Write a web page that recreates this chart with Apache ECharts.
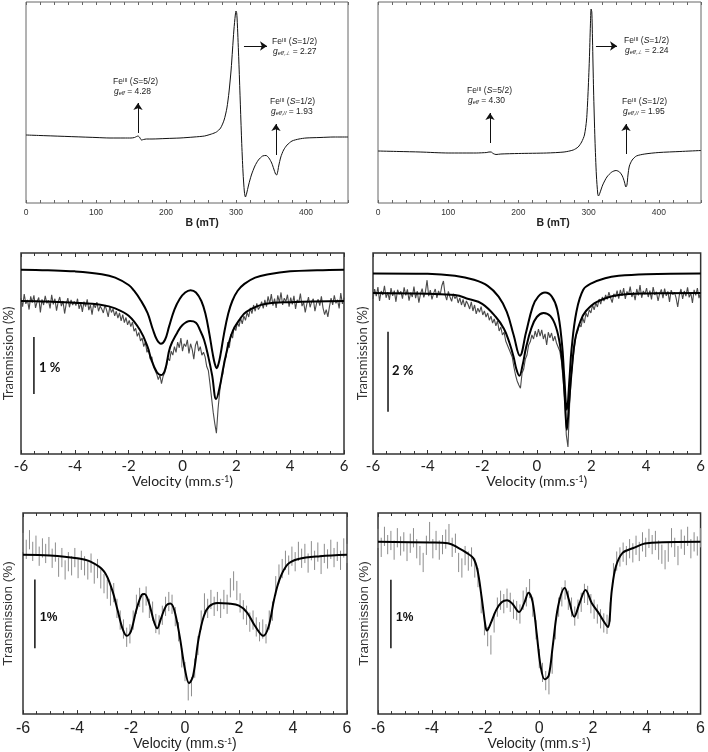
<!DOCTYPE html>
<html><head><meta charset="utf-8">
<script src="https://cdn.jsdelivr.net/npm/echarts@6/dist/echarts.min.js"></script>
<style>html,body{margin:0;padding:0;background:#fff}#c{width:708px;height:752px}</style>
</head><body><div id="c"></div>
<script>
// ---------- EPR (top row) ----------
const eprB_L = [0,20,40,60,80,100,120,140,150,155,158,160,162,165,168,172,180,200,220,240,255,265,272,278,283,287,290,293,295,297,299,300,301,302,304,306,308,310,312,313.5,315,318,322,327,332,338,343,347,351,354,356.5,358,359.5,361,364,368,373,380,390,400,420,440,460];
const eprI_L = [1,0.5,0,-0.5,-1,-1.5,-2,-2,-2,-1.5,-0.5,0,-1,-4,-3.5,-3,-3,-2.5,-2,-1,0,2,4,8,16,28,44,66,86,106,121,125,123,111,76,36,-4,-36,-56,-61,-58,-49,-39,-30,-24,-20,-19.5,-22,-27,-33,-38,-39,-36,-30,-21,-14,-9,-5,-3,-2,-1.5,-1,-1];
const eprB_R = [0,30,60,100,140,155,158,161,164,168,175,200,240,265,278,285,290,294,297,299,301,302.5,303.5,304.5,305.5,307,309,311,313,314,316,320,326,333,339,344,348,351,353,354.5,356,358,362,368,380,400,430,460];
const eprI_R = [0,-0.5,-1,-2,-2,-1.5,-1,-1,-2.5,-3.5,-3,-2.5,-2,-1,1,4,9,16,31,56,91,126,142,139,111,61,11,-24,-43,-45,-42,-34,-26,-21,-19.5,-21,-25,-31,-36,-34,-24,-15,-9,-5,-3,-1.5,-0.5,0.5];
const eprArrowsL = [[160,3,160,33],[311.4,90,344.3,90],[357.1,-19,357.1,12]];
const eprArrowsR = [[159.5,8,159.5,38],[310.4,105,340.4,105],[353.2,-3,353.2,27]];
const eprLabelsL = [['5/2','{i|g}{sub|eff}{n| = 4.28}'],['1/2','{i|g}{sub|eff,⊥}{n| = 2.27}'],['1/2','{i|g}{sub|eff,//}{n| = 1.93}']];
const eprLabelsR = [['5/2','{i|g}{sub|eff}{n| = 4.30}'],['1/2','{i|g}{sub|eff,⊥}{n| = 2.24}'],['1/2','{i|g}{sub|eff,//}{n| = 1.95}']];

// ---------- Mössbauer middle row ----------
const midChannelStart = -6, midChannelStep = 0.06, midChannelCount = 201;
const midL_T = [
100.05,99.90,100.12,99.95,100.02,99.85,100.08,99.97,100.10,99.88,99.99,100.06,99.80,100.03,99.93,100.09,99.96,
100.01,99.87,100.11,99.94,100.04,99.83,99.98,100.07,99.91,100.00,99.78,99.95,100.05,99.89,100.02,99.93,99.99,
99.92,100.04,99.86,99.97,99.81,99.99,99.90,100.03,99.84,99.93,99.76,99.95,99.88,99.98,99.82,99.91,99.86,
99.79,99.93,99.84,99.72,99.90,99.80,99.86,99.74,
99.82,99.70,99.79,99.65,99.76,99.62,99.71,99.58,99.66,
99.55,99.63,99.47,99.52,99.38,99.45,99.30,
99.35,99.20,99.28,99.10,99.15,
98.98,99.02,98.85,98.88,98.72,
98.62,98.70,98.55,98.68,98.74,
98.85,99.00,98.95,99.12,99.05,99.20,
99.10,99.28,99.18,99.35,99.12,99.25,
99.20,99.32,99.08,99.25,99.15,98.98,
99.22,99.30,99.12,99.20,99.05,
99.10,99.02,98.85,98.78,98.55,
98.30,98.05,97.85,97.68,98.10,
98.40,98.65,98.72,98.98,99.02,
99.28,99.18,99.42,99.35,99.55,
99.48,99.62,99.55,99.70,99.60,99.74,99.66,99.80,
99.72,99.88,99.78,99.93,99.82,99.96,99.85,99.90,99.99,99.87,
100.02,99.90,100.08,99.95,100.12,99.92,100.04,99.88,100.10,99.97,100.15,99.93,100.05,99.99,100.11,99.90,
100.06,99.94,100.09,99.86,100.02,99.97,100.13,99.91,99.98,99.80,99.95,100.07,99.89,99.99,100.04,99.82,99.96,
100.03,99.92,100.08,99.88,99.76,99.85,99.72,99.90,100.05,99.93,100.10,99.96,100.02,99.87,100.14,99.95,100.06];
const midL_fitV = [-6,-5,-4,-3,-2.5,-2,-1.58,-1.3,-1.15,-0.95,-0.8,-0.65,-0.46,-0.2,0,0.28,0.5,0.65,0.8,0.96,1.1,1.25,1.4,1.5,1.7,1.88,2.1,2.37,3.1,4,6];
const midL_fitT = [100,99.99,99.97,99.93,99.87,99.74,99.49,99.2,98.96,98.75,98.70,98.79,99.19,99.44,99.58,99.65,99.62,99.49,99.32,99.02,98.7,98.28,98.53,98.79,99.23,99.49,99.66,99.81,99.95,99.98,100];
const midL_compV = [-6,-5,-4,-3,-2.5,-2,-1.8,-1.55,-1.3,-1.1,-0.95,-0.8,-0.65,-0.5,-0.3,-0.1,0.1,0.3,0.5,0.7,0.85,1.0,1.12,1.2,1.27,1.34,1.42,1.54,1.7,1.85,2.05,2.3,2.7,3.2,4,5,6];
const midL_compT = [100.55,100.54,100.52,100.47,100.41,100.28,100.18,100.01,99.79,99.5,99.32,99.25,99.32,99.55,99.85,100.04,100.15,100.19,100.15,100.0,99.78,99.42,99.08,98.9,98.82,98.9,99.08,99.42,99.78,100.0,100.18,100.3,100.41,100.47,100.52,100.54,100.55];
const midL_bar = [-5.52, 98.37, 99.37];

const midR_T = [
99.85,100.10,99.92,100.15,99.80,100.05,99.95,100.18,99.88,100.02,99.83,100.12,99.93,100.06,99.78,100.08,99.97,
100.04,99.86,100.14,99.94,100.09,99.81,100.01,99.90,100.16,99.87,100.05,99.76,99.98,100.11,99.89,100.03,100.32,
99.92,100.07,99.84,99.99,100.10,99.88,100.05,99.95,100.18,100.30,99.96,99.82,100.04,99.90,99.79,99.98,99.86,
99.93,99.75,99.88,99.70,99.84,99.65,99.80,99.72,
99.60,99.78,99.55,99.70,99.48,99.62,99.52,99.66,99.45,
99.55,99.40,99.50,99.32,99.42,99.25,99.35,
99.18,99.30,99.05,99.15,98.95,
99.02,98.80,98.85,98.60,98.62,
98.40,98.15,97.95,97.80,97.70,
97.62,98.00,98.10,98.35,98.45,98.70,
98.78,98.95,98.85,99.05,98.90,99.10,
98.92,99.08,98.85,98.98,98.70,99.02,
98.88,99.00,98.80,98.92,98.75,
98.78,98.55,98.30,97.85,97.35,
96.45,96.15,97.20,97.90,98.30,
98.65,98.95,99.05,99.22,99.15,
99.38,99.25,99.50,99.40,99.58,
99.50,99.70,99.58,99.75,99.65,99.85,99.72,99.90,
99.80,99.95,99.84,100.02,99.88,99.76,99.98,99.90,100.06,99.86,
100.08,99.93,100.12,99.85,100.04,99.96,100.16,99.90,100.02,99.82,100.10,99.94,100.20,99.88,100.05,99.97,
100.12,99.90,100.06,99.84,100.15,99.95,100.03,99.80,99.99,100.09,99.87,100.11,99.93,100.04,99.78,100.07,99.96,
100.02,99.88,99.65,99.95,100.10,99.85,100.05,99.92,100.14,99.89,100.00,99.75,100.08,99.94,100.12,99.87,100.03];
const midR_fitV = [-6,-4,-3,-2.5,-2,-1.5,-1.2,-1,-0.85,-0.75,-0.64,-0.52,-0.4,-0.2,0,0.25,0.5,0.7,0.85,0.96,1.03,1.1,1.18,1.27,1.4,1.6,1.8,2.2,3,4,6];
const midR_fitT = [100,99.98,99.95,99.85,99.73,99.4,99.1,98.75,98.4,98.1,97.93,98.2,98.62,99.12,99.4,99.5,99.42,99.15,98.7,98.05,97.3,96.58,97.25,98,98.83,99.3,99.55,99.78,99.95,99.99,100];
const midR_compV = [-6,-4,-3,-2.3,-1.8,-1.4,-1.1,-0.85,-0.62,-0.4,-0.15,0.05,0.3,0.55,0.75,0.92,1.0,1.1,1.2,1.27,1.45,1.7,2,2.5,3,4,6];
const midR_compT = [100.49,100.48,100.43,100.33,100.18,99.91,99.53,98.95,98.43,99.0,99.66,99.91,100.01,99.91,99.58,98.74,97.95,97.08,97.9,98.58,99.53,100.08,100.24,100.37,100.43,100.47,100.49];
const midR_bar = [-5.45, 97.03, 99.03];

// ---------- Mössbauer bottom row ----------
const botChannelStart = -6, botChannelStep = 0.12, botChannelCount = 101;
const botL_T = [100.18,100.08,100.22,100.05,100.14,99.98,100.10,100.02,100.12,99.95,
100.04,99.82,99.96,99.78,99.90,99.84,99.96,99.80,99.92,99.84,
99.78,99.88,99.72,99.80,99.65,99.58,99.50,99.40,99.45,99.22,
99.05,98.92,98.80,98.85,99.05,99.28,99.38,99.30,99.40,99.22,
99.18,99.00,98.98,99.12,99.25,99.32,99.28,99.10,98.88,98.50,
98.30,98.02,98.08,98.35,98.68,99.05,99.30,99.22,99.35,99.25,
99.32,99.22,99.35,99.28,99.52,99.62,99.48,99.30,99.20,99.12,
99.02,99.05,98.95,98.88,98.92,98.85,99.05,99.18,99.55,99.72,
99.80,99.92,99.85,99.98,99.90,100.05,99.95,100.02,99.88,100.06,
99.92,100.04,99.86,100.02,99.94,100.08,99.96,100.05,99.92,100.10,100.02];
const botL_err = 0.14;
const botL_fitV = [-6,-5,-4,-3.5,-3,-2.7,-2.5,-2.3,-2.15,-2,-1.8,-1.6,-1.5,-1.35,-1.15,-1.03,-0.9,-0.7,-0.55,-0.4,-0.2,0,0.15,0.3,0.5,0.7,0.9,1.2,1.6,2,2.3,2.6,2.9,3.1,3.3,3.5,3.8,4.2,5,6];
const botL_fitT = [100,99.99,99.95,99.9,99.76,99.49,99.2,98.91,98.82,98.89,99.2,99.42,99.43,99.32,99.03,98.93,99.06,99.26,99.29,99.2,98.82,98.33,98.13,98.24,98.77,99.11,99.25,99.3,99.29,99.26,99.16,98.96,98.82,98.96,99.35,99.64,99.86,99.94,99.98,100];
const botL_bar = [-5.56, 98.64, 99.64];

const botR_T = [100.05,99.92,100.08,99.96,100.02,99.88,100.06,99.94,100.00,99.86,
99.98,100.06,99.90,99.80,99.70,99.95,100.15,99.90,100.02,99.88,
99.96,100.04,100.12,99.92,99.98,99.70,99.62,99.80,99.72,99.78,
99.62,99.48,99.10,98.78,98.62,98.50,98.82,99.05,99.15,99.10,
99.18,99.12,99.02,99.00,98.95,99.15,99.20,99.32,99.05,98.72,
98.30,98.10,97.98,97.92,98.22,98.72,99.05,99.20,99.30,99.15,
99.05,98.92,99.02,99.12,99.25,99.22,99.10,99.02,98.95,98.88,
98.82,98.80,98.98,99.55,99.72,99.78,99.85,99.80,99.90,99.84,
99.95,99.86,100.00,99.92,100.05,99.96,100.02,99.88,99.82,99.74,
99.85,100.06,99.92,99.80,100.04,99.95,100.08,99.90,100.00,99.94,100.06];
const botR_err = 0.14;
const botR_fitV = [-6,-4,-3.4,-3,-2.7,-2.45,-2.3,-2.15,-2,-1.95,-1.8,-1.6,-1.4,-1.2,-1,-0.75,-0.55,-0.4,-0.25,-0.1,0.05,0.2,0.35,0.5,0.7,0.95,1.1,1.3,1.5,1.72,1.95,2.2,2.4,2.55,2.7,2.85,3.1,3.5,4,6];
const botR_fitT = [100,99.99,99.98,99.91,99.84,99.76,99.59,99.21,98.77,98.71,98.82,99.01,99.12,99.15,99.1,98.98,99.12,99.26,99.13,98.68,98.19,98,98.05,98.48,99.06,99.33,99.16,98.91,99.11,99.3,99.11,98.97,98.84,98.76,99.3,99.64,99.84,99.91,99.98,100];
const botR_bar = [-5.52, 98.45, 99.45];

// ---------- build ----------
const zip = (a,b) => a.map((v,i)=>[v,b[i]]);
const channels = (start, step, n) => Array.from({length:n},(_,i)=>+(start+i*step).toFixed(3));
const midVel = channels(midChannelStart, midChannelStep, midChannelCount);
const botVel = channels(botChannelStart, botChannelStep, botChannelCount);

const grids = [
  {left:26, top:2, width:322, height:201, border:'#666', bw:1},
  {left:378, top:2, width:323, height:201, border:'#666', bw:1},
  {left:21, top:253, width:323, height:201, border:'#333', bw:1.5},
  {left:373, top:253, width:328, height:201, border:'#333', bw:1.5},
  {left:23, top:513, width:324, height:202, border:'#333', bw:1.5},
  {left:378, top:513, width:324, height:202, border:'#333', bw:1.5}
];

const xAxes = [], yAxes = [];
function eprX(gi, padLeft){
  const base = {gridIndex:gi, type:'value', min:0, max:460, interval:20,
    axisLine:{show:false, onZero:false}, splitLine:{show:false},
    axisTick:{inside:true, length:3, lineStyle:{color:'#666'}}};
  xAxes.push(Object.assign({}, base, {position:'bottom',
    axisLabel:{formatter:v=> (v%100===0 ? String(v) : ''), fontSize:8.5, color:'#333', margin:5, fontFamily:'Liberation Sans'},
    name:'B (mT)', nameLocation:'middle', nameGap:10,
    nameTextStyle:{fontWeight:'bold', fontSize:10.5, color:'#222', fontFamily:'Liberation Sans', padding:[0,0,0,padLeft]}}));
  xAxes.push(Object.assign({}, base, {position:'top', axisLabel:{show:false}}));
}
function mbX(gi, font, tickSize, nameSize, nameGap, margin){
  const base = {gridIndex:gi, type:'value', min:-6, max:6, interval:2,
    axisLine:{show:false, onZero:false}, splitLine:{show:false},
    axisTick:{inside:true, length:4, lineStyle:{color:'#333'}},
    minorTick:{show:true, splitNumber:4, length:3, lineStyle:{color:'#333'}}};
  xAxes.push(Object.assign({}, base, {position:'bottom',
    axisLabel:{fontSize:tickSize, color:'#222', margin:margin, fontFamily:font},
    name:'Velocity (mm.s{sup|-1})', nameLocation:'middle', nameGap:nameGap,
    nameTextStyle:{fontSize:nameSize, color:'#222', fontFamily:font,
      rich:{sup:{fontSize:nameSize*0.62, verticalAlign:'top', fontFamily:font, color:'#222', lineHeight:nameSize}}}}));
  xAxes.push(Object.assign({}, base, {position:'top', axisLabel:{show:false}}));
}
function yAx(gi, min, max, name, font, size, gap){
  const y = {gridIndex:gi, type:'value', min:min, max:max, axisLine:{show:false, onZero:false}, axisTick:{show:false},
    axisLabel:{show:false}, splitLine:{show:false}};
  if (name){ Object.assign(y, {name:name, nameLocation:'middle', nameGap:gap,
    nameTextStyle:{fontSize:size, color:'#333', fontFamily:font}}); }
  yAxes.push(y);
}
eprX(0, 30); eprX(1, 27);
mbX(2, 'Lato', 15, 14, 17, 5); mbX(3, 'Lato', 15, 14, 17, 5);
mbX(4, 'Liberation Sans', 16, 14, 18, 6); mbX(5, 'Liberation Sans', 16, 14, 18, 6);
yAx(0, -67, 134); yAx(1, -52, 149);
yAx(2, 97.316, 100.842, 'Transmission (%)', 'Lato', 13, 6);
yAx(3, 95.975, 101.0, 'Transmission (%)', 'Lato', 13, 4);
yAx(4, 97.681, 100.609, 'Transmission (%)', 'Liberation Sans', 13.5, 8);
yAx(5, 97.493, 100.42, 'Transmission (%)', 'Liberation Sans', 13.5, 7);

function arrowLines(arr){
  return arr.map(a=>[{coord:[a[0],a[1]]},{coord:[a[2],a[3]]}]);
}
function eprSeries(gi, B, I, arrows){
  return {type:'line', xAxisIndex:2*gi, yAxisIndex:gi, data:zip(B,I), showSymbol:false, smooth:0.25,
    lineStyle:{color:'#111', width:1}, silent:true,
    markLine:{silent:true, symbol:['none','arrow'], symbolSize:7, label:{show:false},
      lineStyle:{color:'#111', width:1, type:'solid'}, emphasis:{disabled:true}, data:arrowLines(arrows)}};
}
function lineS(gi, data, color, width, smooth){
  return {type:'line', xAxisIndex:2*gi, yAxisIndex:gi, data:data, showSymbol:false, smooth:smooth,
    lineStyle:{color:color, width:width}, silent:true};
}
function barS(gi, bar){
  return lineS(gi, [[bar[0],bar[1]],[bar[0],bar[2]]], '#111', 1.5, false);
}
function errS(gi, vel, T, err){
  return {type:'custom', xAxisIndex:2*gi, yAxisIndex:gi, silent:true,
    data: vel.map((v,i)=>[v, T[i], err]),
    renderItem:function(params, api){
      const x = api.value(0), y = api.value(1), e = api.value(2);
      const p1 = api.coord([x, y-e]), p2 = api.coord([x, y+e]);
      return {type:'line', shape:{x1:p1[0], y1:p1[1], x2:p2[0], y2:p2[1]}, style:{stroke:'#8c8c8c', lineWidth:1}};
    }};
}

const series = [
  eprSeries(0, eprB_L, eprI_L, eprArrowsL),
  eprSeries(1, eprB_R, eprI_R, eprArrowsR),
  lineS(2, zip(midVel, midL_T), '#4a4a4a', 1.1, false),
  lineS(2, zip(midL_fitV, midL_fitT), '#000', 2, 0.4),
  lineS(2, zip(midL_compV, midL_compT), '#000', 2, 0.4),
  barS(2, midL_bar),
  lineS(3, zip(midVel, midR_T), '#4a4a4a', 1.1, false),
  lineS(3, zip(midR_fitV, midR_fitT), '#000', 2, 0.4),
  lineS(3, zip(midR_compV, midR_compT), '#000', 2, 0.4),
  barS(3, midR_bar),
  errS(4, botVel, botL_T, botL_err),
  lineS(4, zip(botL_fitV, botL_fitT), '#000', 2, 0.35),
  barS(4, botL_bar),
  errS(5, botVel, botR_T, botR_err),
  lineS(5, zip(botR_fitV, botR_fitT), '#000', 2, 0.35),
  barS(5, botR_bar)
];

const richEPR = {
  n:{fontSize:8.5, fontFamily:'Liberation Sans', fill:'#222'},
  i:{fontSize:8.5, fontStyle:'italic', fontFamily:'Liberation Sans', fill:'#222'},
  sup:{fontSize:5.5, fontFamily:'Liberation Sans', fill:'#222', verticalAlign:'top'},
  sub:{fontSize:5.5, fontStyle:'italic', fontFamily:'Liberation Sans', fill:'#222', verticalAlign:'bottom'}
};
function eprText(x, y, txt){
  return {type:'text', x:x, y:y, silent:true, style:{text:txt, rich:richEPR, fill:'#222',
    font:'8.5px "Liberation Sans"', align:'left', verticalAlign:'middle'}};
}
function eprLabelBlock(pos, lab){
  const out = [];
  pos.forEach((p,k)=>{
    out.push(eprText(p[0], p[1], '{n|Fe}{sup|III}{n| (}{i|S}{n|=' + lab[k][0] + ')}'));
    out.push(eprText(p[0]+1, p[1]+10, lab[k][1]));
  });
  return out;
}
function plainText(x, y, txt, font){
  return {type:'text', x:x, y:y, silent:true, style:{text:txt, font:font, fill:'#111', align:'left', verticalAlign:'middle'}};
}

const graphic = [].concat(
  eprLabelBlock([[113,82],[272,42],[270,102]], eprLabelsL),
  eprLabelBlock([[467,91],[624,41],[622,102]], eprLabelsR),
  [plainText(39, 368, '1 %', 'bold 13px Lato'),
   plainText(392, 371, '2 %', 'bold 13px Lato'),
   plainText(40, 618, '1%', 'bold 12px "Liberation Sans"'),
   plainText(396, 618, '1%', 'bold 12px "Liberation Sans"')]
);

const chart = echarts.init(document.getElementById('c'), null, {renderer:'canvas'});
chart.setOption({
  animation:false,
  backgroundColor:'#fff',
  grid: grids.map(g=>({left:g.left, top:g.top, width:g.width, height:g.height, show:true,
    borderColor:g.border, borderWidth:g.bw, backgroundColor:'transparent', containLabel:false})),
  xAxis: xAxes,
  yAxis: yAxes,
  series: series,
  graphic: graphic
});
</script></body></html>
